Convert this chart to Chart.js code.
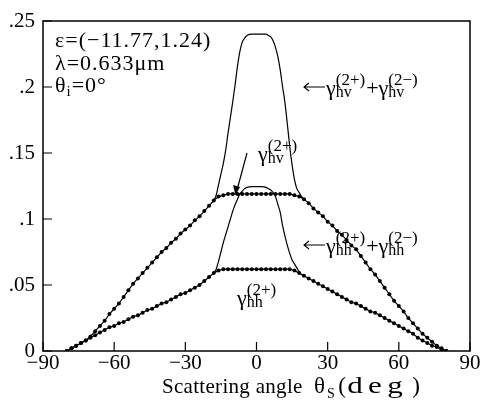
<!DOCTYPE html>
<html lang="en">
<head>
  <meta charset="UTF-8">
  <title>Scattering angle</title>
  <script src="https://cdn.jsdelivr.net/npm/chart.js"></script>
  <style>
    body { margin: 0; background: #fff; }
    #wrap { width: 482px; height: 408px; }
  </style>
</head>
<body>
  <div id="wrap"><canvas id="chart" width="482" height="408"></canvas></div>

  <script>
    // scattering angles (deg), dotted curves sampled every 2 deg
    const angles = [-80,-78,-76,-74,-72,-70,-68,-66,-64,-62,-60,-58,-56,-54,-52,-50,-48,-46,-44,-42,
      -40,-38,-36,-34,-32,-30,-28,-26,-24,-22,-20,-18,-16,-14,-12,-10,-8,-6,-4,-2,
      0,2,4,6,8,10,12,14,16,18,20,22,24,26,28,30,32,34,36,38,
      40,42,44,46,48,50,52,54,56,58,60,62,64,66,68,70,72,74,76,78,80];

    const hv2p = [0.000,0.002,0.004,0.006,0.008,0.011,0.015,0.019,0.023,0.028,0.032,0.036,0.041,0.046,0.051,0.055,0.059,0.063,0.067,0.071,
      0.075,0.078,0.082,0.085,0.089,0.092,0.095,0.099,0.102,0.106,0.110,0.114,0.117,0.118,0.119,0.119,0.119,0.119,0.119,0.119,
      0.119,0.119,0.119,0.119,0.119,0.119,0.119,0.119,0.118,0.117,0.115,0.112,0.108,0.105,0.102,0.098,0.095,0.091,0.088,0.084,
      0.080,0.077,0.072,0.067,0.062,0.058,0.053,0.048,0.043,0.038,0.034,0.030,0.025,0.021,0.017,0.013,0.010,0.007,0.004,0.002,0.000];

    const hh2p = [0.000,0.002,0.004,0.006,0.008,0.010,0.012,0.014,0.016,0.018,0.019,0.021,0.022,0.024,0.026,0.027,0.029,0.031,0.032,0.034,
      0.036,0.037,0.039,0.041,0.043,0.044,0.046,0.048,0.050,0.053,0.056,0.059,0.061,0.062,0.062,0.062,0.062,0.062,0.062,0.062,
      0.062,0.062,0.062,0.062,0.062,0.062,0.062,0.062,0.061,0.059,0.057,0.055,0.053,0.051,0.049,0.047,0.045,0.043,0.041,0.039,
      0.037,0.036,0.034,0.032,0.030,0.029,0.027,0.025,0.023,0.021,0.019,0.017,0.015,0.013,0.010,0.008,0.006,0.004,0.003,0.001,0.000];

    // central part of the (2+)+(2-) sums, outside it they lie on the dotted curves
    const coreAngles = [-18,-17,-16,-15,-14,-13,-12,-11,-10,-9,-8,-7,-6,-5,-4,-2,0,2,4,5,6,7,8,9,10,11,12,13,14,15,16,17,18,19,20];
    const hvTotal = [0.114,0.118,0.126,0.134,0.142,0.152,0.165,0.177,0.189,0.202,0.216,0.227,0.234,0.237,0.239,0.240,0.240,0.240,0.240,
      0.239,0.238,0.235,0.230,0.223,0.213,0.200,0.188,0.172,0.155,0.141,0.130,0.123,0.120,0.117,0.115];
    const hhTotal = [0.059,0.062,0.068,0.075,0.082,0.088,0.094,0.100,0.106,0.111,0.115,0.119,0.121,0.123,0.124,0.1245,0.1245,0.1245,0.124,
      0.123,0.122,0.120,0.117,0.111,0.105,0.095,0.087,0.080,0.074,0.069,0.066,0.063,0.060,0.058,0.057];

    const xTickLabels = ['\u221290', '\u221260', '\u221230', '0', '30', '60', '90'];
    const yTickLabels = ['0', '.05', '.1', '.15', '.2', '.25'];

    const SERIF = '"Liberation Serif", "DejaVu Serif", serif';

    function pts(xs, ys) {
      return xs.map((x, i) => ({ x: x, y: ys[i] }));
    }

    // gamma with stacked sub/superscript, returns x after it
    function gamma(ctx, x, y, sub, sup) {
      ctx.font = '22px ' + SERIF;
      ctx.fillText('\u03b3', x, y);
      x += ctx.measureText('\u03b3').width;
      ctx.font = '17px ' + SERIF;
      ctx.fillText(sup, x, y - 10);
      const wSup = ctx.measureText(sup).width;
      ctx.font = '16px ' + SERIF;
      ctx.fillText(sub, x, y + 2);
      return x + Math.max(wSup, ctx.measureText(sub).width);
    }

    function leftArrow(ctx, x1, x2, y) {
      ctx.beginPath();
      ctx.moveTo(x2, y);
      ctx.lineTo(x1, y);
      ctx.moveTo(x1 + 5, y - 4);
      ctx.lineTo(x1, y);
      ctx.lineTo(x1 + 5, y + 4);
      ctx.stroke();
    }

    function sumLabel(ctx, y, sub) {
      leftArrow(ctx, 304, 325, y - 8);
      let x = gamma(ctx, 326, y, sub, '(2+)');
      ctx.font = '22px ' + SERIF;
      ctx.fillText('+', x + 1, y);
      x += ctx.measureText('+').width + 1;
      gamma(ctx, x, y, sub, '(2\u2212)');
    }

    const decor = {
      id: 'decor',
      afterDatasetsDraw(chart) {
        const ctx = chart.ctx;
        const a = chart.chartArea;
        const xs = chart.scales.x, ys = chart.scales.y;
        ctx.save();
        ctx.strokeStyle = '#000';
        ctx.fillStyle = '#000';
        ctx.lineWidth = 1.5;
        ctx.strokeRect(a.left, a.top, a.right - a.left, a.bottom - a.top);

        // inward tick marks
        ctx.lineWidth = 1.2;
        ctx.beginPath();
        xs.ticks.forEach(t => {
          const px = xs.getPixelForValue(t.value);
          ctx.moveTo(px, a.bottom);
          ctx.lineTo(px, a.bottom - 9);
        });
        ys.ticks.forEach(t => {
          const py = ys.getPixelForValue(t.value);
          ctx.moveTo(a.left, py);
          ctx.lineTo(a.left + 9, py);
        });
        ctx.stroke();

        // parameter block
        ctx.textBaseline = 'alphabetic';
        ctx.letterSpacing = '1px';
        ctx.font = '22px ' + SERIF;
        ctx.fillText('\u03b5=(\u221211.77,1.24)', 55, 47);
        ctx.fillText('\u03bb=0.633\u03bcm', 55, 70);
        ctx.fillText('\u03b8', 55, 92);
        const w = ctx.measureText('\u03b8').width;
        ctx.font = '15px ' + SERIF;
        ctx.fillText('i', 55 + w, 96);
        const wi = ctx.measureText('i').width;
        ctx.font = '22px ' + SERIF;
        ctx.fillText('=0\u00b0', 55 + w + wi, 92);
        ctx.letterSpacing = '0px';

        // curve labels
        ctx.lineWidth = 1.1;
        sumLabel(ctx, 95, 'hv');
        sumLabel(ctx, 253, 'hh');
        gamma(ctx, 258, 161, 'hv', '(2+)');
        gamma(ctx, 237, 305, 'hh', '(2+)');

        // pointer to the dotted hv curve
        ctx.lineWidth = 1.2;
        ctx.beginPath();
        ctx.moveTo(247, 153);
        ctx.lineTo(237, 190);
        ctx.stroke();
        ctx.beginPath();
        ctx.moveTo(235.5, 195);
        ctx.lineTo(233, 185);
        ctx.lineTo(240, 187);
        ctx.closePath();
        ctx.fill();

        // axis title
        ctx.font = '21px ' + SERIF;
        ctx.letterSpacing = '0.3px';
        ctx.fillText('Scattering angle', 162, 393);
        ctx.letterSpacing = '0px';
        ctx.font = '23px ' + SERIF;
        ctx.fillText('\u03b8', 314, 393);
        ctx.font = '14px ' + SERIF;
        ctx.fillText('S', 327, 398);
        // wide typewriter-like "(deg)"
        ctx.font = '23px ' + SERIF;
        ctx.textAlign = 'center';
        const centers = [342, 355, 375, 395, 416];
        '(deg)'.split('').forEach((c, i) => {
          ctx.save();
          ctx.translate(centers[i], 393);
          ctx.scale(i === 0 || i === 4 ? 1 : 1.35, 1);
          ctx.fillText(c, 0, 0);
          ctx.restore();
        });
        ctx.restore();
      }
    };

    const tickFont = { family: SERIF, size: 21 };

    new Chart(document.getElementById('chart'), {
      type: 'line',
      data: {
        datasets: [
          { data: pts(angles, hv2p), borderColor: '#000', backgroundColor: '#000', borderWidth: 1.2,
            pointRadius: 2, pointBorderWidth: 0, tension: 0 },
          { data: pts(angles, hh2p), borderColor: '#000', backgroundColor: '#000', borderWidth: 1.2,
            pointRadius: 2, pointBorderWidth: 0, tension: 0 },
          { data: pts(coreAngles, hvTotal), borderColor: '#000', borderWidth: 1.2,
            pointRadius: 0, cubicInterpolationMode: 'monotone' },
          { data: pts(coreAngles, hhTotal), borderColor: '#000', borderWidth: 1.2,
            pointRadius: 0, cubicInterpolationMode: 'monotone' }
        ]
      },
      options: {
        responsive: false,
        animation: false,
        events: [],
        layout: { padding: { top: 21, right: 12, left: 0, bottom: 0 } },
        plugins: { legend: { display: false }, tooltip: { enabled: false } },
        scales: {
          x: {
            type: 'linear', min: -90, max: 90,
            grid: { display: false, drawTicks: false },
            border: { display: false },
            ticks: { stepSize: 30, color: '#000', font: tickFont, padding: 0,
              maxRotation: 0, callback: (v, i) => xTickLabels[i] },
            afterFit: s => { s.height = 57; }
          },
          y: {
            min: 0, max: 0.25,
            grid: { display: false, drawTicks: false },
            border: { display: false },
            ticks: { stepSize: 0.05, color: '#000', font: tickFont, padding: 8,
              callback: (v, i) => yTickLabels[i] },
            afterFit: s => { s.width = 43; }
          }
        }
      },
      plugins: [decor]
    });
  </script>
</body>
</html>
